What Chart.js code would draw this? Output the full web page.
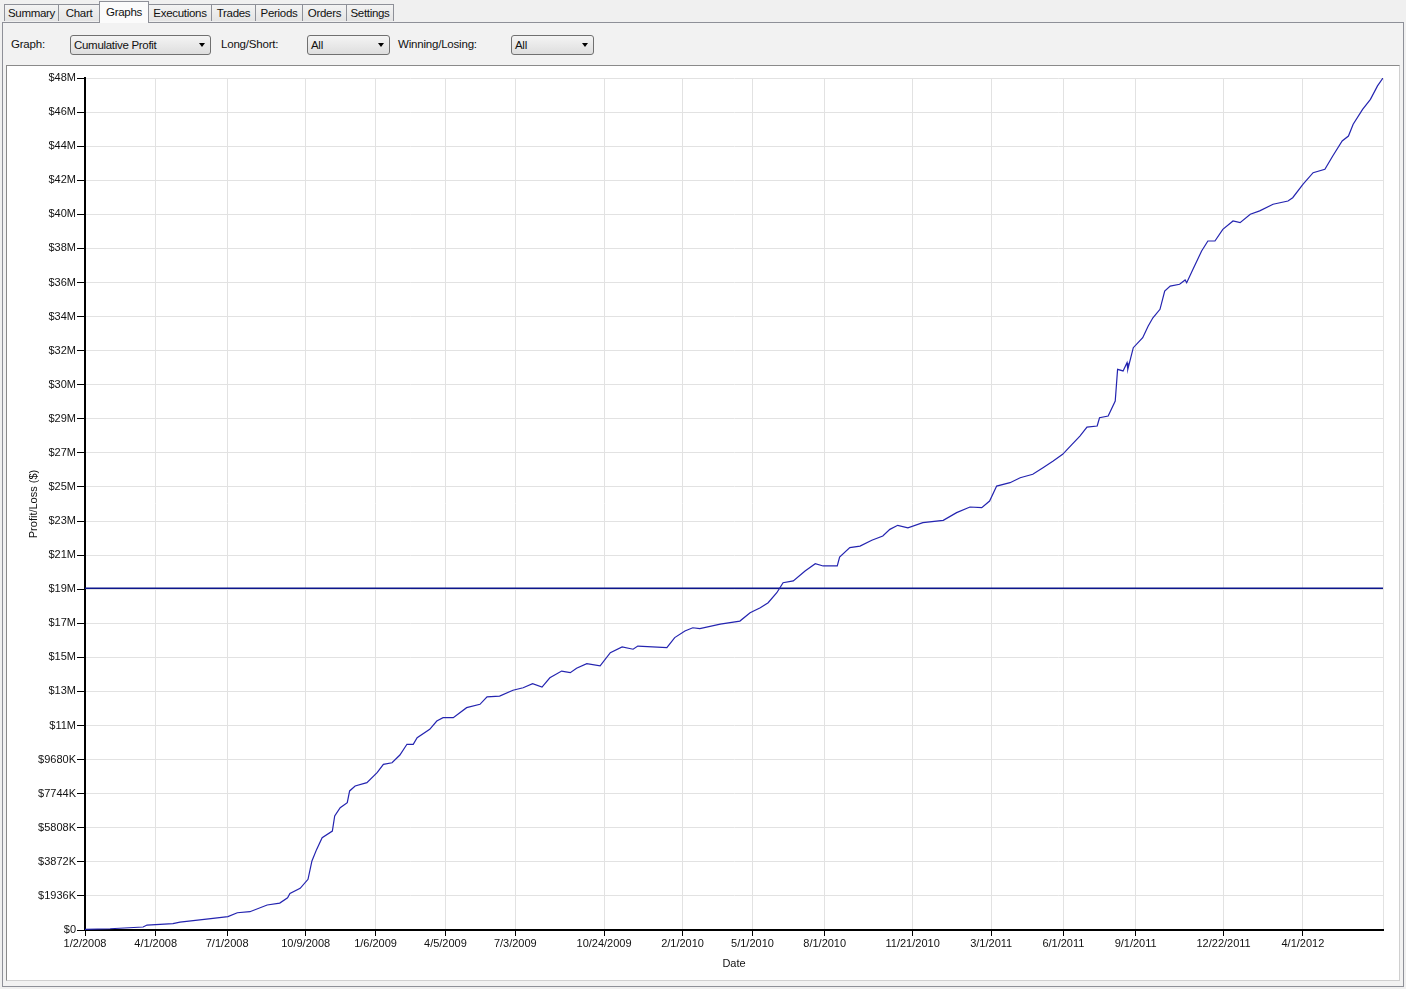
<!DOCTYPE html>
<html>
<head>
<meta charset="utf-8">
<script src="https://cdn.jsdelivr.net/npm/chart.js@4.4.1/dist/chart.umd.min.js"></script>
<style>
  html, body { margin:0; padding:0; }
  body { width:1406px; height:989px; background:#f0f0f0; position:relative; overflow:hidden;
         font-family:"Liberation Sans", Arial, sans-serif; font-size:11.5px; color:#111; }
  .tab { position:absolute; top:4px; height:17px; line-height:17px; text-align:center;
         border:1px solid #8e9098; border-bottom:none; background:linear-gradient(#f3f3f3,#e4e4e4);
         box-sizing:border-box; letter-spacing:-0.3px; }
  .tab.sel { top:1px; height:22px; line-height:20px; background:#fbfbfb; z-index:3; }
  .page { position:absolute; left:2px; top:22px; width:1402px; height:965px; box-sizing:border-box;
          border:1px solid #8e9098; background:#f2f2f2; }
  .lbl { position:absolute; top:38px; letter-spacing:-0.2px; }
  .combo { position:absolute; top:35px; height:20px; box-sizing:border-box; border:1px solid #707070;
           border-radius:3px; background:linear-gradient(#f4f4f4,#dedede); padding-left:3px;
           line-height:18px; letter-spacing:-0.3px; }
  .combo .arr { position:absolute; right:5px; top:7px; width:0; height:0;
                border-left:3.5px solid transparent; border-right:3.5px solid transparent; border-top:4px solid #000; }
  .panel { position:absolute; left:6px; top:65px; width:1394px; height:916px; box-sizing:border-box;
           border:1px solid #8a8a8a; border-right-color:#d0d0d0; border-bottom-color:#d0d0d0; background:#fff; }
  #cv { position:absolute; left:8px; top:67px; }
</style>
</head>
<body>
<div class="page"></div>
<div class="tab" style="left:4px;width:55px;">Summary</div>
<div class="tab" style="left:58px;width:42px;">Chart</div>
<div class="tab sel" style="left:99px;width:50px;">Graphs</div>
<div class="tab" style="left:148px;width:64px;">Executions</div>
<div class="tab" style="left:211px;width:45px;">Trades</div>
<div class="tab" style="left:255px;width:48px;">Periods</div>
<div class="tab" style="left:302px;width:45px;">Orders</div>
<div class="tab" style="left:346px;width:48px;">Settings</div>

<div class="lbl" style="left:11px;">Graph:</div>
<div class="combo" style="left:70px;width:141px;">Cumulative Profit<span class="arr"></span></div>
<div class="lbl" style="left:221px;">Long/Short:</div>
<div class="combo" style="left:307px;width:83px;">All<span class="arr"></span></div>
<div class="lbl" style="left:398px;">Winning/Losing:</div>
<div class="combo" style="left:511px;width:83px;">All<span class="arr"></span></div>

<div class="panel"></div>
<canvas id="cv" width="1390" height="912"></canvas>

<script>
// ---------------- DATA ----------------
const startDate = '2008-01-02';
const endDate = '2012-07-12';

const dates = [
 '2008-01-02','2008-02-03','2008-03-16','2008-03-21','2008-04-23','2008-05-02','2008-06-13','2008-07-02',
 '2008-07-14','2008-07-30','2008-08-21','2008-09-06','2008-09-16','2008-09-19','2008-10-02','2008-10-12',
 '2008-10-17','2008-10-23','2008-10-30','2008-11-12','2008-11-15','2008-11-22','2008-12-01','2008-12-04',
 '2008-12-11','2008-12-26','2009-01-08','2009-01-16','2009-01-27','2009-02-06','2009-02-15','2009-02-23',
 '2009-02-28','2009-03-16','2009-03-25','2009-04-02','2009-04-15','2009-05-02','2009-05-19','2009-05-28',
 '2009-06-13','2009-06-30','2009-07-13','2009-07-25','2009-08-06','2009-08-16','2009-08-31','2009-09-11',
 '2009-09-19','2009-10-02','2009-10-19','2009-11-01','2009-11-16','2009-11-30','2009-12-06','2010-01-12',
 '2010-01-22','2010-02-04','2010-02-14','2010-02-23','2010-03-21','2010-04-15','2010-04-28','2010-05-11',
 '2010-05-21','2010-06-01','2010-06-09','2010-06-22','2010-07-07','2010-07-20','2010-07-30','2010-08-17',
 '2010-08-20','2010-09-02','2010-09-15','2010-09-30','2010-10-14','2010-10-23','2010-11-02','2010-11-15',
 '2010-12-04','2010-12-30','2011-01-16','2011-02-02','2011-02-17','2011-02-27','2011-03-08','2011-03-25',
 '2011-04-07','2011-04-23','2011-05-06','2011-05-19','2011-05-31','2011-06-12','2011-06-22','2011-07-01',
 '2011-07-14','2011-07-17','2011-07-28','2011-08-06','2011-08-09','2011-08-16','2011-08-21','2011-08-22',
 '2011-08-29','2011-09-10','2011-09-17','2011-09-23','2011-10-02','2011-10-08','2011-10-15','2011-10-27',
 '2011-11-03','2011-11-05','2011-11-13','2011-11-24','2011-12-02','2011-12-11','2011-12-21','2012-01-03',
 '2012-01-12','2012-01-25','2012-02-06','2012-02-23','2012-03-13','2012-03-19','2012-04-01','2012-04-14',
 '2012-04-29','2012-05-09','2012-05-21','2012-05-29','2012-06-04','2012-06-16','2012-06-26','2012-07-05',
 '2012-07-12'
];

// cumulative profit, millions of dollars
const cumulativeProfitM = [
 0.04,0.07,0.17,0.28,0.36,0.45,0.66,0.76,
 0.98,1.04,1.42,1.53,1.83,2.08,2.37,2.88,
 3.92,4.58,5.24,5.62,6.48,6.95,7.23,7.90,
 8.18,8.37,8.94,9.41,9.50,9.94,10.55,10.55,
 10.92,11.40,11.87,12.06,12.06,12.63,12.82,13.24,
 13.29,13.62,13.76,13.99,13.80,14.33,14.71,14.62,
 14.87,15.13,15.00,15.75,16.08,15.95,16.13,16.04,
 16.61,16.99,17.17,17.12,17.38,17.55,18.02,18.31,
 18.59,19.16,19.73,19.83,20.39,20.81,20.68,20.68,
 21.19,21.72,21.81,22.14,22.38,22.76,22.99,22.85,
 23.14,23.27,23.71,24.03,23.99,24.37,25.22,25.41,
 25.69,25.89,26.26,26.64,27.02,27.59,28.06,28.57,
 28.63,29.10,29.20,30.05,31.85,31.76,32.23,31.85,
 33.08,33.65,34.31,34.78,35.26,36.30,36.58,36.68,
 36.93,36.77,37.53,38.57,39.14,39.14,39.80,40.28,
 40.18,40.66,40.85,41.23,41.41,41.60,42.36,43.02,
 43.21,43.97,44.82,45.10,45.77,46.62,47.19,47.95,
 48.40
];

const referenceLineM = 19.42;

const xTickLabels = ['1/2/2008','4/1/2008','7/1/2008','10/9/2008','1/6/2009','4/5/2009','7/3/2009',
 '10/24/2009','2/1/2010','5/1/2010','8/1/2010','11/21/2010','3/1/2011','6/1/2011','9/1/2011',
 '12/22/2011','4/1/2012'];

const yTickStepM = 1.936;
const yTickLabels = ['$0','$1936K','$3872K','$5808K','$7744K','$9680K','$11M','$13M','$15M','$17M',
 '$19M','$21M','$23M','$25M','$27M','$29M','$30M','$32M','$34M','$36M','$38M','$40M','$42M',
 '$44M','$46M','$48M'];

// ---------------- HELPERS ----------------
const t0 = Date.UTC(2008, 0, 2);
function dayIso(s){ const [y,m,d] = s.split('-').map(Number); return (Date.UTC(y,m-1,d) - t0)/864e5; }
function dayUs(s){ const [m,d,y] = s.split('/').map(Number); return (Date.UTC(y,m-1,d) - t0)/864e5; }

const xMin = dayIso(startDate), xMax = dayIso(endDate);
const xTickValues = xTickLabels.map(dayUs);
const yTickValues = yTickLabels.map((_, i) => i * yTickStepM);

const profitPts = dates.map((d, i) => ({ x: dayIso(d), y: cumulativeProfitM[i] }));
const refPts = [{ x: xMin, y: referenceLineM }, { x: xMax, y: referenceLineM }];

const tickFont = { family: '"Liberation Sans", Arial, sans-serif', size: 11 };

new Chart(document.getElementById('cv'), {
  type: 'line',
  data: {
    datasets: [
      { label: 'Cumulative Profit', data: profitPts, borderColor: '#2424b0', borderWidth: 1.2,
        pointRadius: 0, tension: 0, fill: false },
      { label: 'Reference', data: refPts, borderColor: '#0c168c', borderWidth: 1.5,
        pointRadius: 0, tension: 0, fill: false }
    ]
  },
  options: {
    responsive: false, animation: false, devicePixelRatio: 1,
    layout: { padding: { left: 0, top: 11, right: 15, bottom: 5 } },
    plugins: { legend: { display: false }, tooltip: { enabled: false } },
    scales: {
      x: {
        type: 'linear', min: xMin, max: xMax,
        afterBuildTicks: s => { s.ticks = xTickValues.concat([xMax]).map(v => ({ value: v })); },
        afterFit: s => { s.height = 44; },
        ticks: { autoSkip: false, maxRotation: 0, minRotation: 0, padding: 1, color: '#111', font: tickFont,
                 callback: (v, i) => (i < xTickLabels.length ? xTickLabels[i] : '') },
        grid: { color: '#e2e2e2', lineWidth: 1, tickLength: 6,
                tickColor: c => (c.index < xTickLabels.length ? '#000' : 'rgba(0,0,0,0)') },
        border: { color: '#000', width: 2 },
        title: { display: true, text: 'Date', color: '#111', font: tickFont, padding: { top: 0, bottom: 3.4 } }
      },
      y: {
        type: 'linear', min: 0, max: yTickValues[yTickValues.length - 1],
        afterBuildTicks: s => { s.ticks = yTickValues.map(v => ({ value: v })); },
        afterFit: s => { s.width = 77; },
        ticks: { autoSkip: false, padding: 1, color: '#111', font: tickFont,
                 callback: (v, i) => yTickLabels[i] },
        grid: { color: '#e2e2e2', lineWidth: 1, tickLength: 8, tickColor: '#000' },
        border: { color: '#000', width: 2 },
        title: { display: true, text: 'Profit/Loss ($)', color: '#111', font: tickFont, padding: { top: 19.4, bottom: 0 } }
      }
    }
  }
});
</script>
</body>
</html>
